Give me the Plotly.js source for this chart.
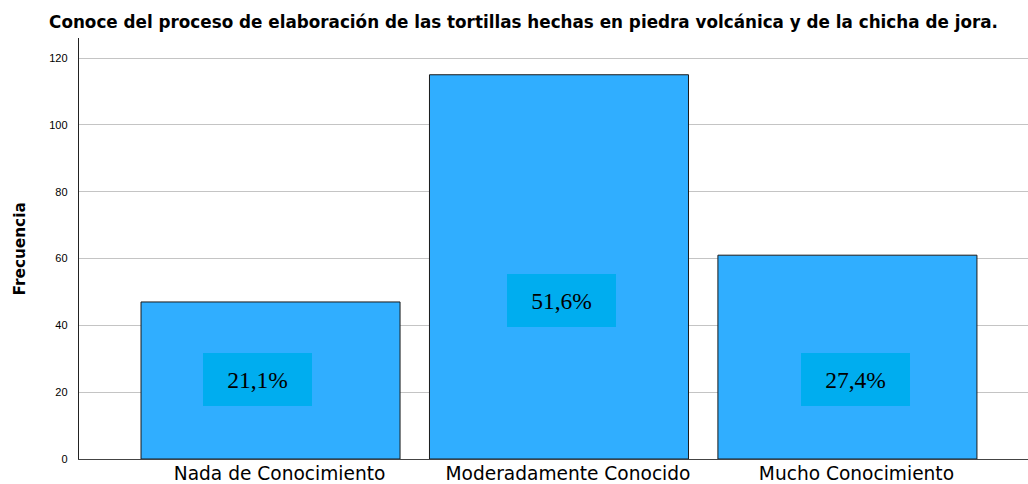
<!DOCTYPE html>
<html><head><meta charset="utf-8">
<script src="https://cdn.plot.ly/plotly-3.0.1.min.js"></script>
<style>html,body{margin:0;padding:0;background:#fff}#chart{width:1028px;height:484px}</style>
</head><body><div id="chart"></div>
<script>
const categories = ["Nada de Conocimiento", "Moderadamente Conocido", "Mucho Conocimiento"];
const frequencies = [47, 115, 61];
const percentLabels = ["21,1%", "51,6%", "27,4%"];

// label box placement (layout, not data)
const labelY = [23.8, 47.4, 23.8];
const labelShift = [-13, 3, 8];

const trace = {
  type: 'bar',
  x: categories,
  y: frequencies,
  marker: {color: '#30AEFF', line: {color: '#1a1a1a', width: 1}},
  hoverinfo: 'none'
};

const annotations = categories.map((c, i) => ({
  x: c, y: labelY[i], xref: 'x', yref: 'y', xshift: labelShift[i],
  text: percentLabels[i], showarrow: false,
  font: {family: 'Liberation Serif, Times New Roman, serif', size: 23.5, color: '#000'},
  bgcolor: '#00ADEF', width: 109, height: 53, borderpad: 0, borderwidth: 0,
  xanchor: 'center', yanchor: 'middle'
}));

annotations.push({
  text: '<b>Frecuencia</b>', textangle: -90, showarrow: false,
  xref: 'paper', yref: 'paper', x: -(79 - 19) / 949, y: 0.5,
  xanchor: 'center', yanchor: 'middle',
  font: {family: 'DejaVu Sans, sans-serif', size: 15.3, color: '#000'}
});

const layout = {
  width: 1028, height: 484,
  margin: {l: 79, r: 0, t: 38, b: 25, pad: 0},
  paper_bgcolor: '#fff', plot_bgcolor: '#fff',
  bargap: 0.102,
  showlegend: false,
  title: {
    text: '<b>Conoce del proceso de elaboración de las tortillas hechas en piedra volcánica y de la chicha de jora.</b>',
    font: {family: 'DejaVu Sans, sans-serif', size: 16.8, color: '#000'},
    x: 523.5 / 1028, xanchor: 'center', xref: 'container',
    y: 1 - 22.5/484, yanchor: 'middle', yref: 'container'
  },
  xaxis: {
    type: 'category',
    range: [-0.664, 2.626],
    showgrid: false, zeroline: false,
    showline: true, linecolor: '#444', linewidth: 1.2,
    ticks: '', ticklabelstandoff: -3, ticklabelshift: 9,
    tickfont: {family: 'DejaVu Sans, sans-serif', size: 18.6, color: '#000'},
    automargin: false, fixedrange: true
  },
  yaxis: {
    range: [0, 126],
    tickvals: [0, 20, 40, 60, 80, 100, 120],
    showgrid: true, gridcolor: '#c4c4c4', gridwidth: 1,
    zeroline: false,
    showline: true, linecolor: '#222', linewidth: 1.2,
    ticks: '', ticklabelstandoff: 8,
    tickfont: {family: 'Liberation Sans, Arial, sans-serif', size: 11, color: '#000'},
    automargin: false, fixedrange: true
  },
  annotations: annotations
};

Plotly.newPlot('chart', [trace], layout, {displayModeBar: false, staticPlot: true});
</script></body></html>
